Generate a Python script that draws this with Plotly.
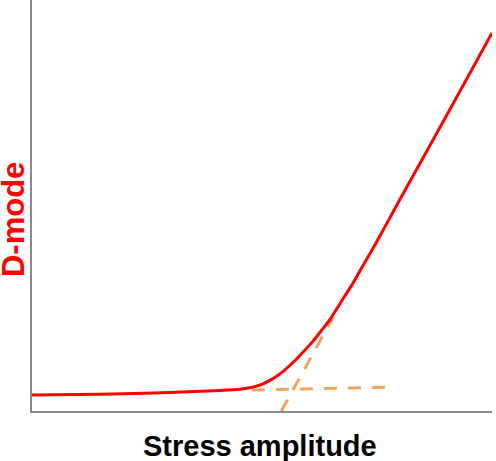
import plotly.graph_objects as go

# Response curve (arbitrary units, 0-100)
curve_x = [0, 14.8, 30.0, 40.9, 45.2, 48.0, 49.8, 51.7, 53.0, 54.6, 57.0, 58.9, 61.1, 63.0,
           64.8, 66.5, 68.0, 69.6, 71.3, 74.6, 80.0, 90.9, 100]
curve_y = [3.9, 4.1, 4.5, 5.0, 5.3, 5.8, 6.4, 7.45, 8.35, 9.65, 12.1, 14.3, 17.0, 19.7,
           22.3, 25.3, 28.0, 30.75, 34.1, 40.5, 51.5, 73.5, 92.0]

# Tangent construction lines
base_x = [47.8, 77.1]
base_y = [5.1, 5.8]
slope_x = [54.2, 65.5]
slope_y = [0.0, 22.9]

x_title = "Stress amplitude"
y_title = "D-mode"

RED = "#FF0000"
ORANGE = "#F2A35E"
GREY = "#8A8A8A"
FONT = "Arial, Liberation Sans, sans-serif"

fig = go.Figure()
fig.add_trace(go.Scatter(x=base_x, y=base_y, mode="lines",
                         line=dict(color=ORANGE, width=3, dash="13px,11px"), hoverinfo="skip"))
fig.add_trace(go.Scatter(x=slope_x, y=slope_y, mode="lines",
                         line=dict(color=ORANGE, width=3, dash="13px,11px"), hoverinfo="skip"))
fig.add_trace(go.Scatter(x=curve_x, y=curve_y, mode="lines",
                         line=dict(color=RED, width=3, shape="spline", smoothing=0.4), hoverinfo="skip"))

fig.update_layout(
    width=496, height=461,
    margin=dict(l=32, r=4, t=0, b=50),
    paper_bgcolor="white", plot_bgcolor="white",
    showlegend=False,
    xaxis=dict(range=[0, 100], showline=True, linecolor=GREY, linewidth=2,
               showgrid=False, zeroline=False, showticklabels=False, ticks=""),
    yaxis=dict(range=[0, 100], showline=True, linecolor=GREY, linewidth=2,
               showgrid=False, zeroline=False, showticklabels=False, ticks=""),
    annotations=[
        dict(text=x_title, xref="paper", yref="paper", x=0.4967, y=-0.085,
             xanchor="center", yanchor="middle", showarrow=False,
             font=dict(family=FONT, size=29, color="black", weight="bold")),
        dict(text=y_title, xref="paper", yref="paper", x=-0.040, y=0.466,
             xanchor="center", yanchor="middle", showarrow=False, textangle=-90,
             font=dict(family=FONT, size=31, color=RED, weight="bold")),
    ],
)

fig.write_html("out.html")
